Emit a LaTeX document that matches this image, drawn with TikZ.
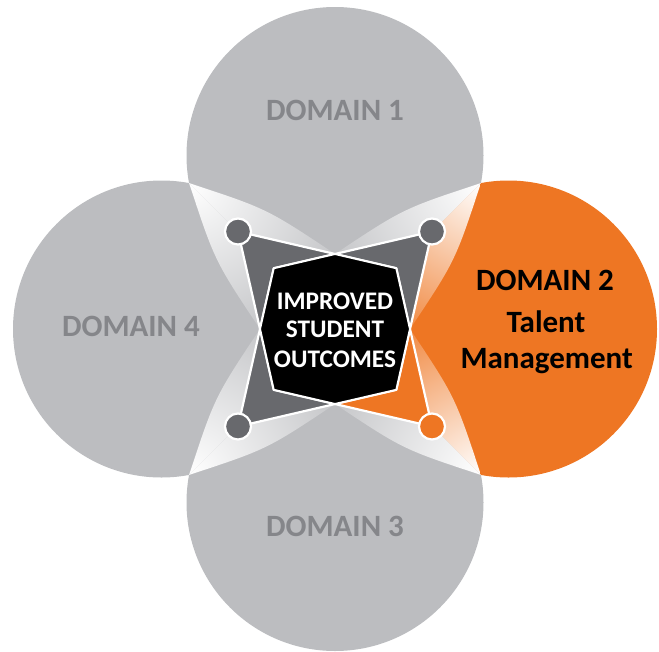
\documentclass[tikz,border=0pt]{standalone}
\usepackage{fontspec}
\setmainfont{Carlito}
\definecolor{cgray}{HTML}{BCBDC0}
\definecolor{tgray}{HTML}{85868A}
\definecolor{corange}{HTML}{EE7623}
\definecolor{dgray}{HTML}{68696D}
\def\celltop{(C) -- ++(-400,-400) -- ++(800,0) -- cycle}
\def\cellright{(C) -- ++(400,-400) -- ++(0,800) -- cycle}
\def\cellbottom{(C) -- ++(400,400) -- ++(-800,0) -- cycle}
\def\cellleft{(C) -- ++(-400,400) -- ++(0,-800) -- cycle}
% #1 own circle centre, #2 cell, #3 colour, #4 tip, #5 wedge path
\newcommand\wedgehalf[5]{\begin{scope}\clip (#1) circle[radius=148.5pt];\clip #2;\clip #5;\shade[inner color=white,outer color=#3] (#4) circle[radius=190pt];\end{scope}}
\begin{document}
\begin{tikzpicture}[x=1pt,y=-1pt,
  domtext/.style={font=\bfseries\fontsize{31}{36}\selectfont, text=tgray, anchor=base, inner sep=0pt},
  orangetext/.style={font=\bfseries\fontsize{31}{36}\selectfont, text=black, anchor=base, inner sep=0pt},
  centertext/.style={font=\bfseries\fontsize{25.3}{30}\selectfont, text=white, anchor=base, inner sep=0pt},
  petal/.style={fill=dgray, draw=white, line width=2.2pt, line join=round},
  dotmark/.style={fill=dgray, draw=white, line width=2.2pt}]
\useasboundingbox (0,0) rectangle (659,651);
\coordinate (C) at (335,329);
\coordinate (c1) at (335,155.5);
\coordinate (c2) at (508.5,329);
\coordinate (c3) at (335,502.5);
\coordinate (c4) at (161.5,329);
% circles, each kept to its own cell
\begin{scope}\clip \celltop; \fill[cgray] (c1) circle[radius=148.5pt];\end{scope}
\begin{scope}\clip \cellright; \fill[corange] (c2) circle[radius=148.5pt];\end{scope}
\begin{scope}\clip \cellbottom; \fill[cgray] (c3) circle[radius=148.5pt];\end{scope}
\begin{scope}\clip \cellleft; \fill[cgray] (c4) circle[radius=148.5pt];\end{scope}
% star geometry
\coordinate (dTL) at (238,231.5);
\coordinate (dTR) at (432,231.5);
\coordinate (dBR) at (432,426.5);
\coordinate (dBL) at (238,426.5);
\coordinate (ta) at (335,254);
\coordinate (ba) at (335,404);
\coordinate (la) at (260,329);
\coordinate (ra) at (410,329);
% wedge tips
\coordinate (tTR) at (480.9,183.1);
\coordinate (tBR) at (480.9,474.9);
\coordinate (tBL) at (189.1,474.9);
\coordinate (tTL) at (189.1,183.1);
\def\wTL{(tTL) .. controls (266.9,208.7) .. (ta) -- (C) -- (la) .. controls (214.7,260.9) .. (tTL) -- cycle}
\def\wTR{(tTR) .. controls (403.1,208.7) .. (ta) -- (C) -- (ra) .. controls (455.3,260.9) .. (tTR) -- cycle}
\def\wBR{(tBR) .. controls (403.1,449.3) .. (ba) -- (C) -- (ra) .. controls (455.3,397.1) .. (tBR) -- cycle}
\def\wBL{(tBL) .. controls (266.9,449.3) .. (ba) -- (C) -- (la) .. controls (214.7,397.1) .. (tBL) -- cycle}
% light wedges
\wedgehalf{c1}{\celltop}{cgray}{tTR}{\wTR}
\wedgehalf{c2}{\cellright}{corange}{tTR}{\wTR}
\wedgehalf{c2}{\cellright}{corange}{tBR}{\wBR}
\wedgehalf{c3}{\cellbottom}{cgray}{tBR}{\wBR}
\wedgehalf{c3}{\cellbottom}{cgray}{tBL}{\wBL}
\wedgehalf{c4}{\cellleft}{cgray}{tBL}{\wBL}
\wedgehalf{c4}{\cellleft}{cgray}{tTL}{\wTL}
\wedgehalf{c1}{\celltop}{cgray}{tTL}{\wTL}
% octagon corners
\coordinate (oTR) at (intersection of dTL--ta and dBR--ra);
\coordinate (oBR) at (intersection of dBL--ba and dTR--ra);
\coordinate (oBL) at (intersection of dBR--ba and dTL--la);
\coordinate (oTL) at (intersection of dTR--ta and dBL--la);
% petals
\path[petal] (ta) -- (dTR) -- (ra) -- (oTR) -- cycle;
\path[petal] (ta) -- (dTL) -- (la) -- (oTL) -- cycle;
\path[petal] (ba) -- (dBL) -- (la) -- (oBL) -- cycle;
\path[petal, fill=corange] (ba) -- (dBR) -- (ra) -- (oBR) -- cycle;
% octagon
\path[fill=black, draw=white, line width=2pt, line join=round]
  (ta) -- (oTR) -- (ra) -- (oBR) -- (ba) -- (oBL) -- (la) -- (oTL) -- cycle;
% dots
\path[dotmark] (dTL) circle[radius=13pt];
\path[dotmark] (dTR) circle[radius=13pt];
\path[dotmark] (dBL) circle[radius=13pt];
\path[dotmark, fill=corange] (dBR) circle[radius=13pt];
% texts
\node[domtext] (n1) at (335,120.7) {DOMAIN 1};
\node[domtext] (n4) at (131,336.7) {DOMAIN 4};
\node[domtext] (n3) at (335,536) {DOMAIN 3};
\node[orangetext] (n2) at (545,290.7) {DOMAIN 2};
\node[orangetext] (n2b) at (546,332.3) {Talent};
\node[orangetext] (n2c) at (546.7,368.3) {Management};
\node[centertext] (m1) at (335,309.3) {IMPROVED};
\node[centertext] (m2) at (335,337.7) {STUDENT};
\node[centertext] (m3) at (335,367.3) {OUTCOMES};
\end{tikzpicture}
\end{document}
